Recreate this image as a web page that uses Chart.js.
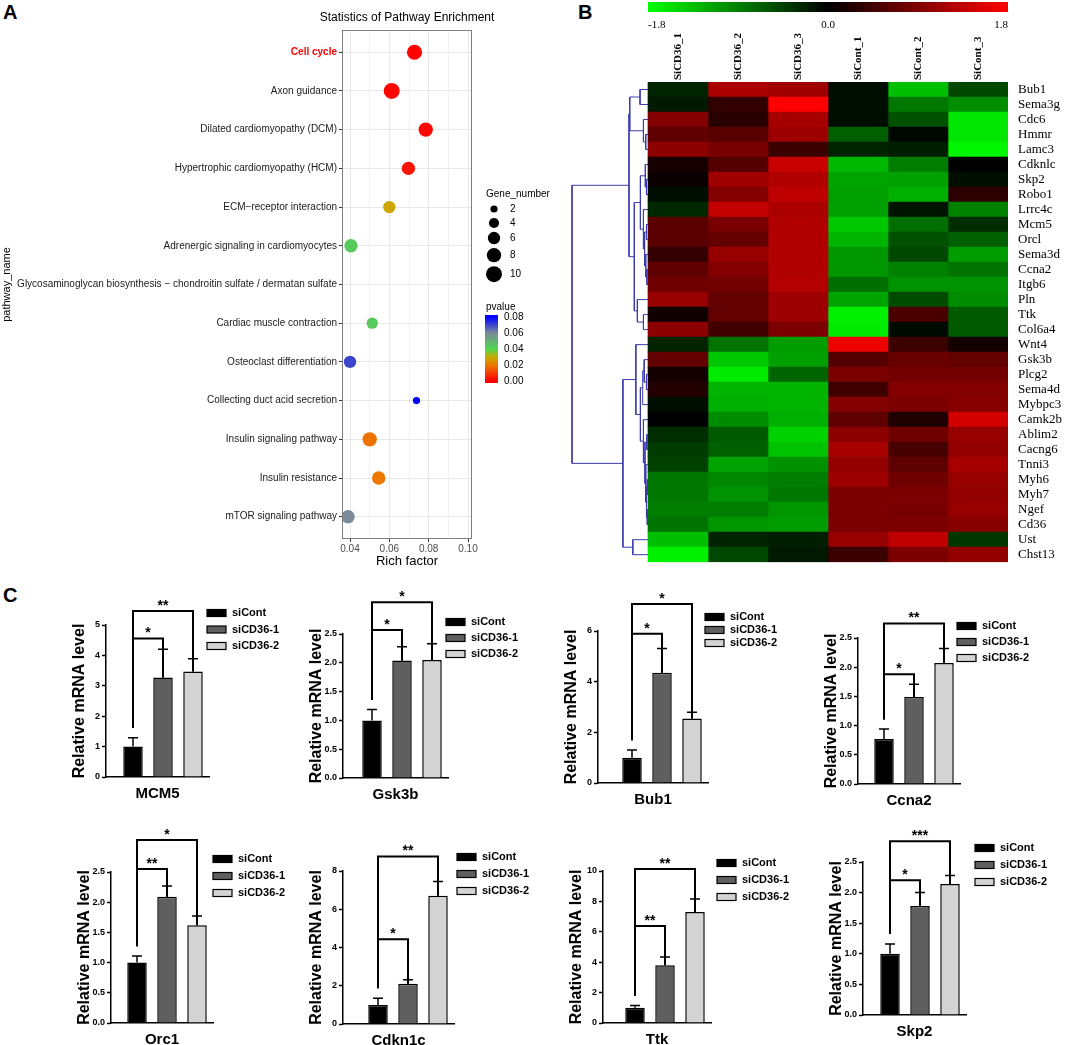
<!DOCTYPE html>
<html>
<head>
<meta charset="utf-8">
<script src="https://cdn.jsdelivr.net/npm/chart.js"></script>
<style>
  body { margin: 0; background: #fff; width: 1072px; height: 1045px; position: relative; overflow: hidden; }
  canvas { position: absolute; }
  .tag { position: absolute; font: bold 20px 'Liberation Sans', Arial, sans-serif; color: #000; }
</style>
</head>
<body>
<div class="tag" style="left:3px;top:1px">A</div>
<div class="tag" style="left:578px;top:1px">B</div>
<div class="tag" style="left:3px;top:584px">C</div>
<script>
// ---------- panel A: KEGG enrichment ----------
const pathways = [
    'Cell cycle',
    'Axon guidance',
    'Dilated cardiomyopathy (DCM)',
    'Hypertrophic cardiomyopathy (HCM)',
    'ECM\u2212receptor interaction',
    'Adrenergic signaling in cardiomyocytes',
    'Glycosaminoglycan biosynthesis \u2212 chondroitin sulfate / dermatan sulfate',
    'Cardiac muscle contraction',
    'Osteoclast differentiation',
    'Collecting duct acid secretion',
    'Insulin signaling pathway',
    'Insulin resistance',
    'mTOR signaling pathway'
];
const richFactor = [0.0728, 0.0612, 0.0785, 0.0697, 0.0600, 0.0405, null, 0.0513, 0.0400, 0.0738, 0.0500, 0.0546, 0.0390];
const geneNumber = [9, 10, 8, 7, 6, 7, null, 5, 6, 2, 8, 7, 7];
const pValue = [0.0005, 0.001, 0.001, 0.003, 0.029, 0.043, null, 0.043, 0.07, 0.08, 0.019, 0.02, 0.06];
const richTicks = [0.04, 0.05, 0.06, 0.07, 0.08, 0.09, 0.10];
const geneBreaks = [2, 4, 6, 8, 10];
const pBreaks = [0.00, 0.02, 0.04, 0.06, 0.08];

// ---------- panel B: heatmap ----------
const sampleNames = ['SiCD36_1', 'SiCD36_2', 'SiCD36_3', 'SiCont_1', 'SiCont_2', 'SiCont_3'];
const heatGenes = ['Bub1', 'Sema3g', 'Cdc6', 'Hmmr', 'Lamc3', 'Cdknlc', 'Skp2', 'Robo1', 'Lrrc4c', 'Mcm5',
    'Orcl', 'Sema3d', 'Ccna2', 'Itgb6', 'Pln', 'Ttk', 'Col6a4', 'Wnt4', 'Gsk3b', 'Plcg2', 'Sema4d',
    'Mybpc3', 'Camk2b', 'Ablim2', 'Cacng6', 'Tnni3', 'Myh6', 'Myh7', 'Ngef', 'Cd36', 'Ust', 'Chst13'];
const siCD36_1 = [-0.25, -0.18, 0.92, 0.67, 0.99, 0.18, 0.08, -0.1, -0.28, 0.64, 0.64, 0.35, 0.67, 0.78, 1.06, 0.12,
    0.99, -0.25, 0.7, 0.14, 0.25, -0.1, 0.0, -0.32, -0.42, -0.46, -0.85, -0.85, -0.88, -0.81, -1.34, -1.7];
const siCD36_2 = [1.2, 0.35, 0.28, 0.63, 0.85, 0.6, 1.13, 0.92, 1.38, 0.85, 0.7, 1.06, 0.92, 0.81, 0.7, 0.7,
    0.46, -0.81, -1.41, -1.66, -1.27, -1.24, -0.99, -0.64, -0.67, -1.16, -0.95, -1.03, -0.88, -1.06, -0.25, -0.5];
const siCD36_3 = [1.13, 1.8, 1.17, 1.1, 0.42, 1.41, 1.24, 1.34, 1.2, 1.24, 1.24, 1.24, 1.24, 1.27, 1.1, 1.1,
    0.88, -1.1, -1.13, -0.71, -1.27, -1.27, -1.24, -1.48, -1.38, -1.03, -0.88, -0.85, -1.06, -1.1, -0.21, -0.18];
const siCont_1 = [-0.1, -0.1, -0.1, -0.67, -0.25, -1.3, -1.16, -1.13, -1.13, -1.41, -1.27, -1.06, -1.06, -0.78, -1.16, -1.7,
    -1.66, 1.7, 0.6, 0.88, 0.46, 0.92, 0.67, 0.99, 1.17, 1.03, 1.1, 0.88, 0.88, 0.88, 1.06, 0.42];
const siCont_2 = [-1.35, -0.85, -0.57, -0.05, -0.21, -0.88, -1.13, -1.24, -0.15, -0.78, -0.57, -0.5, -0.92, -1.03, -0.53, 0.53,
    -0.07, 0.42, 0.74, 0.81, 0.92, 0.88, 0.21, 0.78, 0.5, 0.67, 0.78, 0.88, 0.85, 0.88, 1.34, 0.88];
const siCont_3 = [-0.5, -1.0, -1.62, -1.62, -1.73, 0.0, -0.1, 0.32, -0.92, -0.32, -0.67, -1.1, -0.81, -1.03, -0.99, -0.64,
    -0.64, 0.14, 0.7, 0.81, 0.92, 0.95, 1.48, 1.06, 1.03, 1.17, 1.06, 1.03, 1.06, 0.95, -0.39, 1.03];
const heatColumns = [siCD36_1, siCD36_2, siCD36_3, siCont_1, siCont_2, siCont_3];
const heatBreaks = [-1.8, 0.0, 1.8];
// row clustering: [left node, right node, height] (nodes >= 32 are earlier merges)
const dendroMerges = [
    [0, 1, 0.105], [3, 4, 0.03], [2, 33, 0.06], [32, 34, 0.24], [6, 7, 0.02], [5, 36, 0.035],
    [9, 10, 0.02], [12, 13, 0.015], [11, 39, 0.03], [38, 40, 0.045], [8, 41, 0.06], [37, 42, 0.1],
    [15, 16, 0.06], [14, 44, 0.14], [43, 45, 0.18], [35, 46, 0.25], [19, 20, 0.02], [18, 48, 0.05],
    [21, 49, 0.07], [23, 24, 0.015], [26, 27, 0.01], [28, 29, 0.01], [52, 53, 0.02], [25, 54, 0.03],
    [51, 55, 0.04], [22, 56, 0.06], [50, 57, 0.1], [17, 58, 0.16], [30, 31, 0.2], [59, 60, 0.33],
    [47, 61, 1.0]
];

// ---------- panel C: qPCR ----------
const groups = ['siCont', 'siCD36-1', 'siCD36-2'];
const qpcrGenes = ['MCM5', 'Gsk3b', 'Bub1', 'Ccna2', 'Orc1', 'Cdkn1c', 'Ttk', 'Skp2'];
const means = [[1.0, 3.27, 3.47], [1.0, 2.04, 2.05], [1.0, 4.35, 2.55], [0.77, 1.49, 2.07],
    [1.0, 2.09, 1.62], [1.0, 2.1, 6.7], [1.0, 3.8, 7.3], [1.0, 1.78, 2.14]];
const sems = [[0.29, 0.93, 0.42], [0.19, 0.24, 0.28], [0.3, 0.96, 0.24], [0.17, 0.22, 0.25],
    [0.11, 0.18, 0.15], [0.35, 0.22, 0.75], [0.15, 0.55, 0.85], [0.16, 0.22, 0.14]];
const yMaxes = [5, 2.5, 6, 2.5, 2.5, 8, 10, 2.5];
const ySteps = [1, 0.5, 2, 0.5, 0.5, 2, 2, 0.5];
const sigPairs = [[0, 1], [0, 2]];
const sigLabels = [['*', '**'], ['*', '*'], ['*', '*'], ['*', '**'], ['**', '*'], ['*', '**'], ['**', '**'], ['*', '***']];
const sigLevels = [[4.56, 5.46], [2.57, 3.05], [5.89, 7.07], [1.88, 2.75], [2.55, 3.03], [4.43, 8.76], [6.38, 10.13], [2.2, 2.84]];

Chart.defaults.font.family = "'Liberation Sans', Arial, sans-serif";
Chart.defaults.animation = false;
Chart.defaults.events = [];
Chart.defaults.plugins.legend.display = false;
Chart.defaults.plugins.tooltip.enabled = false;

const serif = "'Liberation Serif', 'Times New Roman', serif";

function makeCanvas(left, top, w, h) {
    const c = document.createElement('canvas');
    c.width = w;
    c.height = h;
    c.style.left = left + 'px';
    c.style.top = top + 'px';
    c.style.width = w + 'px';
    c.style.height = h + 'px';
    document.body.appendChild(c);
    return c.getContext('2d');
}

// ================= A =================
const pStops = [[0, [255, 0, 0]], [0.02, [236, 120, 0]], [0.03, [200, 170, 0]], [0.04, [80, 215, 80]],
    [0.06, [122, 138, 153]], [0.08, [0, 0, 255]]];

function pColor(p) {
    for (let i = 1; i < pStops.length; i++) {
        if (p <= pStops[i][0]) {
            const t = (p - pStops[i - 1][0]) / (pStops[i][0] - pStops[i - 1][0]);
            const a = pStops[i - 1][1], b = pStops[i][1];
            return `rgb(${a.map((v, k) => Math.round(v + (b[k] - v) * t)).join(',')})`;
        }
    }
    return 'rgb(0,0,255)';
}

function bubbleRadius(n) {
    return 2.51 * Math.sqrt(n) + 0.05;
}

const isMajor = v => Math.round(v * 100) % 2 === 0;

const enrichExtras = {
    id: 'enrichExtras',
    afterDraw(chart) {
        const {ctx, chartArea: ca} = chart;
        ctx.save();
        ctx.strokeStyle = '#7f7f7f';
        ctx.lineWidth = 1;
        ctx.strokeRect(ca.left + 0.5, ca.top + 0.5, ca.right - ca.left - 1, ca.bottom - ca.top - 1);

        ctx.fillStyle = '#000';
        ctx.font = "12px 'Liberation Sans', Arial";
        ctx.textAlign = 'center';
        ctx.textBaseline = 'middle';
        ctx.fillText('Statistics of Pathway Enrichment', (ca.left + ca.right) / 2, 18);

        // size legend
        const lx = ca.right + 14;
        ctx.textAlign = 'left';
        ctx.font = "10px 'Liberation Sans', Arial";
        ctx.fillText('Gene_number', lx, 194);
        let cy = 209, prevR = 0;
        geneBreaks.forEach((n, i) => {
            const r = bubbleRadius(n);
            if (i > 0) cy += Math.max(prevR + r + 3.8, 14);
            ctx.fillStyle = '#000';
            ctx.beginPath();
            ctx.arc(lx + 8, cy, r, 0, Math.PI * 2);
            ctx.fill();
            ctx.fillText(String(n), lx + 24, cy);
            prevR = r;
        });

        // colour legend
        ctx.fillText('pvalue', lx, 307);
        const top = 317, bottom = 381;
        const g = ctx.createLinearGradient(0, bottom, 0, top);
        pStops.forEach(([p, c]) => g.addColorStop(p / 0.08, `rgb(${c.join(',')})`));
        ctx.fillStyle = g;
        ctx.fillRect(lx - 1, top - 2, 13, bottom - top + 4);
        ctx.fillStyle = '#000';
        pBreaks.forEach(p => {
            const yy = bottom - (p / 0.08) * (bottom - top);
            ctx.fillText(p.toFixed(2), lx + 18, yy);
        });
        ctx.restore();
    }
};

new Chart(makeCanvas(0, 0, 560, 575), {
    type: 'bubble',
    data: {
        datasets: [{
            data: pathways.map((p, i) => ({x: richFactor[i], y: i, r: bubbleRadius(geneNumber[i]), p: pValue[i]}))
                .filter(d => d.x !== null),
            backgroundColor: ctx => pColor(ctx.raw.p),
            borderWidth: 0
        }]
    },
    options: {
        responsive: false,
        layout: {padding: {top: 30, right: 88, left: 0, bottom: 0}},
        scales: {
            x: {
                type: 'linear',
                min: 0.03593,
                max: 0.10203,
                afterBuildTicks: s => { s.ticks = richTicks.map(v => ({value: v})); },
                afterFit: s => { s.height = 36; },
                ticks: {
                    autoSkip: false,
                    maxRotation: 0,
                    padding: 1,
                    color: '#4d4d4d',
                    font: {size: 10},
                    callback: v => isMajor(v) ? v.toFixed(2) : ''
                },
                grid: {
                    color: ctx => isMajor(ctx.tick.value) ? '#e8e8e8' : '#f2f2f2',
                    tickColor: ctx => isMajor(ctx.tick.value) ? '#333' : 'rgba(0,0,0,0)',
                    tickLength: 3
                },
                border: {display: false},
                title: {display: true, text: 'Rich factor', color: '#000', font: {size: 13}, padding: {top: 0, bottom: 6}}
            },
            y: {
                type: 'linear',
                reverse: true,
                min: -0.575,
                max: 12.575,
                afterBuildTicks: s => { s.ticks = pathways.map((p, i) => ({value: i})); },
                afterFit: s => { s.width = 342; },
                ticks: {
                    autoSkip: false,
                    padding: 2,
                    color: ctx => ctx.index === 0 ? '#ff0000' : '#1a1a1a',
                    font: ctx => ctx.index === 0 ? {size: 10, weight: 'bold'} : {size: 10},
                    callback: v => pathways[v]
                },
                grid: {color: '#e8e8e8', tickColor: '#333', tickLength: 3},
                border: {display: false},
                title: {display: true, text: 'pathway_name', color: '#000', font: {size: 11}, padding: 0}
            }
        }
    },
    plugins: [enrichExtras]
});

// ================= B =================
function heatColor(v) {
    const k = Math.round(Math.min(Math.abs(v) / 1.8, 1) * 255);
    return v >= 0 ? `rgb(${k},0,0)` : `rgb(0,${k},0)`;
}

const treeWidth = 76 / 60; // dendrogram depth in column units
const nodeY = heatGenes.map((g, i) => i);
const nodeH = heatGenes.map(() => 0);
const dendroSets = dendroMerges.map(([a, b, h]) => {
    const seg = [
        {x: -nodeH[a] * treeWidth, y: nodeY[a]},
        {x: -h * treeWidth, y: nodeY[a]},
        {x: -h * treeWidth, y: nodeY[b]},
        {x: -nodeH[b] * treeWidth, y: nodeY[b]}
    ];
    nodeY.push((nodeY[a] + nodeY[b]) / 2);
    nodeH.push(h);
    return {
        type: 'line',
        data: seg,
        borderColor: '#3c3cb0',
        borderWidth: 1,
        pointRadius: 0,
        fill: false,
        tension: 0
    };
});

const heatSets = heatColumns.map((col, c) => ({
    type: 'bar',
    data: col.map((v, r) => ({y: r, x: [c, c + 1]})),
    backgroundColor: ctx => heatColor(col[ctx.dataIndex]),
    borderWidth: 0,
    grouped: false,
    barPercentage: 1,
    categoryPercentage: 1
}));

const heatExtras = {
    id: 'heatExtras',
    afterDraw(chart) {
        const {ctx, chartArea: ca, scales: {x}} = chart;
        const toCol = v => (v - heatBreaks[0]) / (heatBreaks[2] - heatBreaks[0]) * sampleNames.length;
        const x0 = x.getPixelForValue(toCol(heatBreaks[0]));
        const x1 = x.getPixelForValue(toCol(heatBreaks[2]));
        ctx.save();
        const g = ctx.createLinearGradient(x0, 0, x1, 0);
        g.addColorStop(0, heatColor(heatBreaks[0]));
        g.addColorStop(0.5, heatColor(heatBreaks[1]));
        g.addColorStop(1, heatColor(heatBreaks[2]));
        ctx.fillStyle = g;
        ctx.fillRect(x0, 2, x1 - x0, 10);
        ctx.fillStyle = '#000';
        ctx.font = '11px ' + serif;
        ctx.textBaseline = 'middle';
        const aligns = ['left', 'center', 'right'];
        heatBreaks.forEach((v, i) => {
            ctx.textAlign = aligns[i];
            ctx.fillText(v.toFixed(1), x.getPixelForValue(toCol(v)), 25);
        });

        // sample names, vertical, reading upwards
        ctx.font = 'bold 11px ' + serif;
        ctx.textAlign = 'left';
        sampleNames.forEach((n, i) => {
            ctx.save();
            ctx.translate(x.getPixelForValue(i + 0.5), ca.top - 2);
            ctx.rotate(-Math.PI / 2);
            ctx.fillText(n, 0, 0);
            ctx.restore();
        });
        ctx.restore();
    }
};

new Chart(makeCanvas(560, 0, 512, 580), {
    type: 'bar',
    data: {datasets: [...heatSets, ...dendroSets]},
    options: {
        responsive: false,
        indexAxis: 'y',
        layout: {padding: {top: 0, right: 0, left: 0, bottom: 16}},
        scales: {
            x: {
                type: 'linear',
                position: 'top',
                min: -88 / 60,
                max: sampleNames.length,
                offset: false,
                afterFit: s => { s.height = 82; },
                ticks: {display: false},
                grid: {display: false, drawTicks: false, offset: false},
                border: {display: false}
            },
            y: {
                type: 'linear',
                position: 'right',
                reverse: true,
                min: -0.5,
                max: heatGenes.length - 0.5,
                offset: false,
                afterBuildTicks: s => { s.ticks = heatGenes.map((g, i) => ({value: i})); },
                afterFit: s => { s.width = 64; },
                ticks: {
                    autoSkip: false,
                    padding: 10,
                    color: '#000',
                    font: {family: serif, size: 13},
                    callback: v => heatGenes[v]
                },
                grid: {display: false, drawTicks: false, offset: false},
                border: {display: false}
            }
        }
    },
    plugins: [heatExtras]
});

// ================= C =================
const barColors = ['#000000', '#5f5f5f', '#d4d4d4'];
const cLayout = [
    {axisX: 106, y0: 777, yTop: 625, gap: 27, legDx: -2, legDy: -12, legGap: 16.5},
    {axisX: 343, y0: 778, yTop: 634, gap: 29, legDx: -2, legDy: -12, legGap: 16},
    {axisX: 598, y0: 783, yTop: 631, gap: 34, legDx: -3, legDy: -14, legGap: 13},
    {axisX: 858, y0: 784, yTop: 638, gap: 26, legDx: -3, legDy: -12, legGap: 16},
    {axisX: 111, y0: 1023, yTop: 872, gap: 26, legDx: 0, legDy: -13, legGap: 17},
    {axisX: 343, y0: 1024, yTop: 871, gap: 35, legDx: 3, legDy: -14, legGap: 17},
    {axisX: 603, y0: 1023, yTop: 871, gap: 32, legDx: 6, legDy: -8, legGap: 17},
    {axisX: 863, y0: 1015, yTop: 862, gap: 27, legDx: 9, legDy: -14, legGap: 17}
];

const barExtras = {
    id: 'barExtras',
    afterDatasetsDraw(chart, args, opts) {
        const k = opts.k, L = cLayout[k];
        const {ctx, chartArea: ca, scales: {x, y}} = chart;
        ctx.save();
        ctx.strokeStyle = '#000';
        ctx.lineWidth = 1.5;
        means[k].forEach((m, i) => {
            const px = x.getPixelForValue(i + 1);
            const top = y.getPixelForValue(m + sems[k][i]);
            ctx.beginPath();
            ctx.moveTo(px, y.getPixelForValue(m));
            ctx.lineTo(px, top);
            ctx.moveTo(px - 5, top);
            ctx.lineTo(px + 5, top);
            ctx.stroke();
        });

        ctx.lineWidth = 2;
        ctx.fillStyle = '#000';
        ctx.font = "bold 14px 'Liberation Sans', Arial";
        ctx.textAlign = 'center';
        ctx.textBaseline = 'alphabetic';
        sigPairs.forEach(([a, b], j) => {
            const lvl = y.getPixelForValue(sigLevels[k][j]);
            const xa = x.getPixelForValue(a + 1), xb = x.getPixelForValue(b + 1);
            const ya = y.getPixelForValue(means[k][a] + sems[k][a] + 0.065 * yMaxes[k]);
            const yb = y.getPixelForValue(means[k][b]);
            ctx.beginPath();
            ctx.moveTo(xa, ya);
            ctx.lineTo(xa, lvl);
            ctx.lineTo(xb, lvl);
            ctx.lineTo(xb, yb);
            ctx.stroke();
            ctx.fillText(sigLabels[k][j], (xa + xb) / 2, lvl - 1);
        });

        ctx.lineWidth = 1.2;
        ctx.textAlign = 'left';
        ctx.textBaseline = 'middle';
        ctx.font = "bold 11px 'Liberation Sans', Arial";
        groups.forEach((g, i) => {
            const lx = ca.right + L.legDx, ly = ca.top + L.legDy + i * L.legGap;
            ctx.fillStyle = barColors[i];
            ctx.fillRect(lx, ly - 3.5, 19, 7);
            ctx.strokeRect(lx, ly - 3.5, 19, 7);
            ctx.fillStyle = '#000';
            ctx.fillText(g, lx + 25, ly);
        });
        ctx.restore();
    }
};

qpcrGenes.forEach((gene, k) => {
    const L = cLayout[k];
    const plotW = L.gap + 76;
    const h = L.y0 - L.yTop;
    const ctx = makeCanvas(L.axisX - 36, L.yTop - 55, 36 + plotW + 90, 55 + h + 26);
    new Chart(ctx, {
        type: 'bar',
        data: {
            datasets: [{
                data: means[k].map((m, i) => ({x: i + 1, y: m})),
                backgroundColor: barColors,
                borderColor: '#000',
                borderWidth: 1.5,
                barPercentage: 0.65,
                categoryPercentage: 1
            }]
        },
        options: {
            responsive: false,
            layout: {padding: {top: 55, right: 90, left: 0, bottom: 0}},
            scales: {
                x: {
                    type: 'linear',
                    min: 1 - L.gap / 30,
                    max: 3 + 16 / 30,
                    offset: false,
                    afterFit: s => { s.height = 26; },
                    ticks: {display: false},
                    grid: {display: false, offset: false},
                    border: {display: true, color: '#000', width: 1.5},
                    title: {display: true, text: gene, color: '#000', font: {size: 15, weight: 'bold'}, padding: 0}
                },
                y: {
                    type: 'linear',
                    min: 0,
                    max: yMaxes[k],
                    afterFit: s => { s.width = 36; },
                    ticks: {
                        stepSize: ySteps[k],
                        padding: 2,
                        color: '#000',
                        font: {size: 9, weight: 'bold'},
                        callback: v => ySteps[k] < 1 ? v.toFixed(1) : String(v)
                    },
                    grid: {drawOnChartArea: false, tickLength: 4, tickWidth: 1.5, tickColor: '#000'},
                    border: {display: true, color: '#000', width: 1.5},
                    title: {display: true, text: 'Relative mRNA level', color: '#000', font: {size: 16, weight: 'bold'}, padding: 0}
                }
            },
            plugins: {barExtras: {k: k}}
        },
        plugins: [barExtras]
    });
});
</script>
</body>
</html>
